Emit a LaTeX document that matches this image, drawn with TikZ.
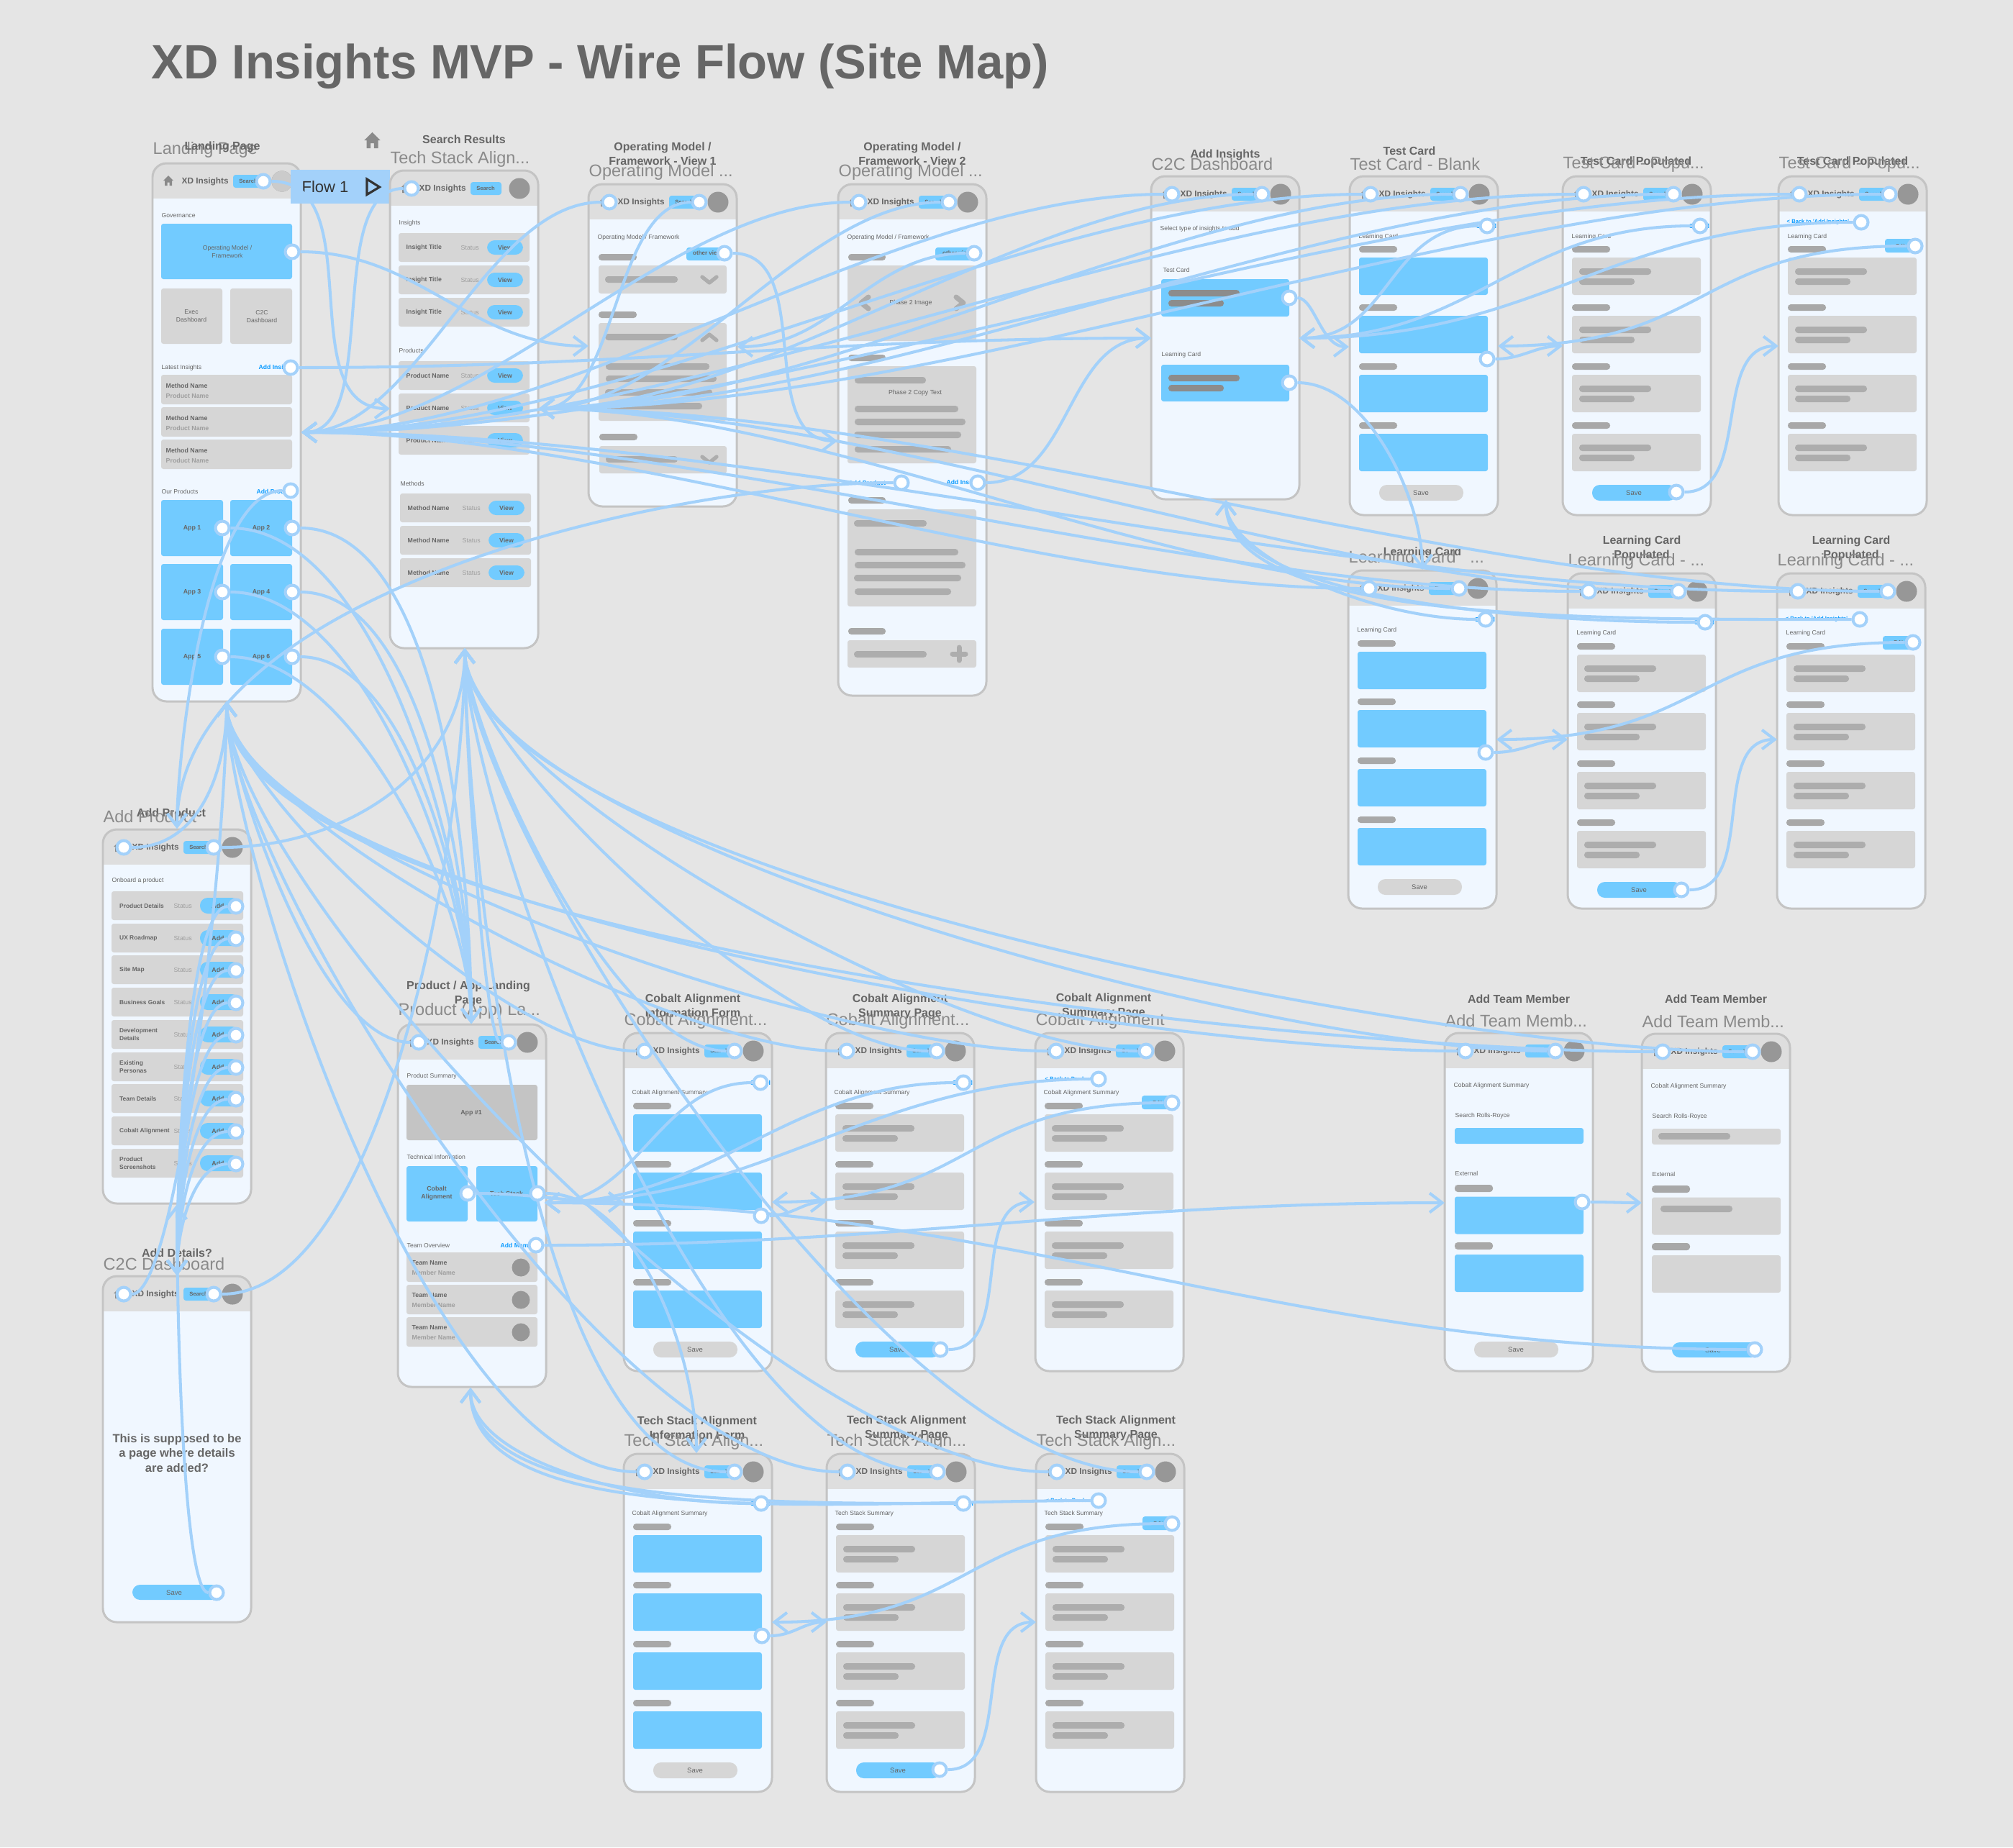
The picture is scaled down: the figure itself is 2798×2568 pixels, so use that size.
\documentclass[tikz,border=0pt]{standalone}
\usepackage{fontspec}
\setmainfont{Liberation Sans}
\usetikzlibrary{arrows.meta}

\definecolor{canvas}{HTML}{E5E5E5}
\definecolor{panel}{HTML}{F0F7FF}
\definecolor{frameline}{HTML}{C4C4C4}
\definecolor{headbar}{HTML}{DEDEDE}
\definecolor{cardgrey}{HTML}{D6D6D6}
\definecolor{cardblue}{HTML}{72CBFF}
\definecolor{barfill}{HTML}{ADADAD}
\definecolor{pillfill}{HTML}{A8A8A8}
\definecolor{darkbar}{HTML}{8C8C8C}
\definecolor{avatar}{HTML}{979797}
\definecolor{wireblue}{HTML}{A3D1FA}
\definecolor{linkblue}{HTML}{0A9BFF}
\definecolor{inkdark}{HTML}{666666}
\definecolor{inkmid}{HTML}{8A8A8A}
\definecolor{inklight}{HTML}{9E9E9E}

\newcommand{\fs}[1]{\fontsize{\the\dimexpr #1pt*2845/10000\relax}{\the\dimexpr #1pt*3556/10000\relax}\selectfont}

\pgfdeclarelayer{wires}
\pgfdeclarelayer{spots}
\pgfsetlayers{main,wires,spots}

\tikzset{
  framebox/.style={draw=frameline,line width=0.85pt,rounded corners=5.5pt},
  cardb/.style={fill=cardblue,rounded corners=0.9pt},
  cardg/.style={fill=cardgrey,rounded corners=0.9pt},
  barf/.style={fill=barfill,rounded corners=1.2pt},
  pillf/.style={fill=pillfill,rounded corners=1.2pt},
  dbar/.style={fill=darkbar,rounded corners=1.2pt},
  btnb/.style={fill=cardblue,rounded corners=3pt},
  btng/.style={fill=cardgrey,rounded corners=3pt},
  chev/.style={draw=barfill,line width=1.5pt,line cap=round,line join=round},
  txt/.style={inner sep=0pt,anchor=west,text=inkdark,font=\fs{8.6}},
  rowname/.style={inner sep=0pt,anchor=west,text=inkdark,align=left,font=\fs{8.8}\bfseries},
  rowsub/.style={inner sep=0pt,anchor=west,text=inklight,font=\fs{8.8}},
  ctr/.style={inner sep=0pt,text=inkdark,align=center,font=\fs{8.8}\bfseries},
  linkt/.style={inner sep=0pt,anchor=west,text=linkblue,font=\fs{8.6}\bfseries},
  pagetitle/.style={inner sep=0pt,text=inkdark,align=center,font=\fs{16}\bfseries},
  pagesub/.style={inner sep=0pt,anchor=west,text=inkmid,font=\fs{23.5}},
  spotnode/.style={circle,fill=white,draw=wireblue,line width=1.15pt,minimum size=5.4pt,inner sep=0pt},
  wire/.style={draw=wireblue,line width=1.15pt,-{Straight Barb[length=5pt,width=7.6pt]}},
  farwire/.style={wire,out looseness=.62,in looseness=.41},
  sidewire/.style={wire,looseness=.78}
}

% white hot spot on its own layer, above the wires
\newcommand{\Spot}[3]{\begin{pgfonlayer}{spots}\node[spotnode] (#1) at (#2,#3) {};\end{pgfonlayer}}

\newcommand{\HomeIcon}[2]{\fill[fill=#2] (#1) ++(-7,0) -- ++(7,-7) -- ++(7,7) -- ++(-2,0) -- ++(0,7) -- ++(-3.5,0) -- ++(0,-4.5) -- ++(-3,0) -- ++(0,4.5) -- ++(-3.5,0) -- ++(0,-7) -- cycle;}

% phone outline with header, local origin is its top left corner
\newcommand{\Phone}[2]{
  \fill[panel,rounded corners=5.5pt] (0,0) rectangle (206,#2);
  \begin{scope}
    \clip[rounded corners=5.5pt] (0,0) rectangle (206,#2);
    \fill[headbar] (0,0) rectangle (206,49);
  \end{scope}
  \path[framebox] (0,0) rectangle (206,#2);
  \HomeIcon{22,24}{inkmid}
  \node[txt,font=\fs{11.8}\bfseries] (#1-brand) at (40,25) {XD Insights};
  \fill[btnb,rounded corners=1pt] (112,16) rectangle (155,34);
  \node[ctr,font=\fs{7.6}\bfseries] (#1-searchtxt) at (133,25) {Search};
  \fill[avatar] (180,25) circle (14.5);
}
\newcommand{\HeadSpots}[1]{\Spot{#1-home}{29}{25}\Spot{#1-find}{154}{25}}

% four labelled cards, blue or filled
\newcommand{\CardRowsBlue}{
  \foreach \yy in {97,178,260,342} {
    \fill[pillf] (13,\yy) rectangle (66,\yy+9);
    \fill[cardb] (13,\yy+16) rectangle (192,\yy+68);
  }
}
\newcommand{\CardRowsFilled}{
  \foreach \yy in {97,178,260,342} {
    \fill[pillf] (13,\yy) rectangle (66,\yy+9);
    \fill[cardg] (13,\yy+16) rectangle (192,\yy+68);
    \fill[barf] (23,\yy+31) rectangle (123,\yy+40);
    \fill[barf] (23,\yy+45) rectangle (100,\yy+54);
  }
}
\newcommand{\SaveBtn}[3]{
  \fill[#3] (41,429) rectangle (158,451);
  \node[ctr,font=\fs{9.5}] (#1-save) at (#2,440) {Save};
}
% form row: id, y, name, status, button text, button left, row left
\newcommand{\ListRow}[7]{
  \fill[cardg] (#7,#2) rectangle ++(182,40);
  \node[rowname] (#1-name) at (#7+10,#2+20) {#3};
  \node[rowsub] (#1-state) at (#7+86,#2+20) {#4};
  \fill[btnb,rounded corners=3pt] (#6,#2+10) rectangle ++(50,20);
  \node[ctr] (#1-act) at (#6+25,#2+20) {#5};
}

\begin{document}
\begin{tikzpicture}[x=0.01cm,y=-0.01cm]
  \fill[canvas] (0,0) rectangle (2798,2568);

  \node[inner sep=0pt,anchor=west,text=inkdark,font=\fs{67}\bfseries] (maintitle) at (210,92) {XD Insights MVP - Wire Flow (Site Map)};

  % landing page
  \node[pagesub] (lp-sub) at (212,208) {Landing Page};
  \node[pagetitle] (lp-title) at (309,204) {Landing Page};
  \begin{scope}[shift={(212,227)}]
    \Phone{lp}{748}
    \fill[fill=headbar!80!gray] (180,25) circle (14.5);
    \Spot{lp-find}{154}{25}
    \node[txt] (lp-gov) at (12,73) {Governance};
    \fill[cardb] (12,84) rectangle (194,161);
    \node[ctr,font=\fs{8.6}] (lp-omtxt) at (104,123) {Operating Model /\\Framework};
    \fill[cardg] (12,174) rectangle (97,251);
    \fill[cardg] (108,174) rectangle (194,251);
    \node[ctr,font=\fs{8.6}] (lp-exec) at (54,212) {Exec\\Dashboard};
    \node[ctr,font=\fs{8.6}] (lp-c2c) at (152,213) {C2C\\Dashboard};
    \node[txt] (lp-latest) at (12,284) {Latest Insights};
    \node[linkt] (lp-addins) at (147,284) {Add Insights};
    \foreach \i/\yy in {1/294,2/339,3/384} {
      \fill[cardg] (12,\yy) rectangle (194,\yy+41);
      \node[rowname] (lp-mn\i) at (18,\yy+15) {Method Name};
      \node[rowsub,font=\fs{8.8}\bfseries] (lp-pn\i) at (18,\yy+29) {Product Name};
    }
    \node[txt] (lp-ours) at (12,456) {Our Products};
    \node[linkt] (lp-addpr) at (144,456) {Add Product};
    \foreach \i/\xx/\yy in {1/12/468,2/108/468,3/12/557,4/108/557,5/12/647,6/108/647} {
      \fill[cardb] (\xx,\yy) rectangle (\xx+86,\yy+78);
      \node[ctr] (lp-apptxt\i) at (\xx+43,\yy+39) {App \i};
    }
    \Spot{lp-om}{194}{123}
    \Spot{lp-ins}{192}{284}
    \Spot{lp-prod}{192}{455}
    \Spot{lp-app1}{97}{507}
    \Spot{lp-app2}{194}{507}
    \Spot{lp-app3}{97}{596}
    \Spot{lp-app4}{194}{596}
    \Spot{lp-app5}{97}{686}
    \Spot{lp-app6}{194}{686}
  \end{scope}

  % flow tag
  \begin{scope}[shift={(517.5,195)},scale=1.6]
    \HomeIcon{0,0}{inkmid}
  \end{scope}
  \fill[wireblue] (403.5,236) rectangle (542,283);
  \node[inner sep=0pt,text=black!80,font=\fs{22}] (flowtxt) at (452,260) {Flow 1};
  \draw[black!80,line width=0.9pt,line join=miter] (510,249) -- (527.5,260) -- (510,270.5) -- cycle;

  % search results
  \node[pagetitle] (sr-title) at (645,194) {Search Results};
  \node[pagesub] (sr-sub) at (542,221) {Tech Stack Align...};
  \begin{scope}[shift={(542,237)}]
    \Phone{sr}{664}
    \Spot{sr-home}{30}{25}
    \node[txt] (sr-ins) at (12,73) {Insights};
    \foreach \i/\yy in {1/87,2/132,3/177} {\ListRow{sr-a\i}{\yy}{Insight Title}{Status}{View}{135}{12}}
    \node[txt] (sr-prd) at (12,250) {Products};
    \foreach \i/\yy in {1/265,2/310,3/355} {\ListRow{sr-b\i}{\yy}{Product Name}{Status}{View}{135}{12}}
    \node[txt] (sr-met) at (14,435) {Methods};
    \foreach \i/\yy in {1/449,2/494,3/539} {\ListRow{sr-c\i}{\yy}{Method Name}{Status}{View}{137}{14}}
  \end{scope}

  % operating model view 1
  \node[pagetitle] (om1-title) at (921,214) {Operating Model /\\Framework - View 1};
  \node[pagesub] (om1-sub) at (818,239) {Operating Model ...};
  \begin{scope}[shift={(818,256)}]
    \Phone{om1}{448}
    \HeadSpots{om1}
    \node[txt] (om1-head) at (12,74) {Operating Model / Framework};
    \fill[pillf] (14,97) rectangle (67,106);
    \fill[btnb,rounded corners=1pt] (136,88) rectangle (195,106);
    \node[ctr,font=\fs{8}\bfseries] (om1-view) at (165,96) {other view};
    \Spot{om1-other}{189}{96}
    \fill[cardg] (14,113) rectangle (192,152);
    \fill[barf] (23,128) rectangle (124,137);
    \draw[chev] (158,129) -- (168,137) -- (178,129);
    \fill[pillf] (14,177) rectangle (67,186);
    \fill[cardg] (14,193) rectangle (192,329);
    \fill[barf] (23,208) rectangle (124,217);
    \draw[chev] (158,217) -- (168,209) -- (178,217);
    \fill[barf] (24,249) rectangle (168,258);
    \fill[barf] (24,266) rectangle (178,275);
    \fill[barf] (23,285) rectangle (172,294);
    \fill[barf] (24,304) rectangle (158,313);
    \fill[pillf] (15,347) rectangle (68,356);
    \fill[cardg] (15,364) rectangle (192,402);
    \fill[barf] (24,378) rectangle (124,387);
    \draw[chev] (158,379) -- (168,387) -- (178,379);
  \end{scope}

  % operating model view 2
  \node[pagetitle] (om2-title) at (1268,214) {Operating Model /\\Framework - View 2};
  \node[pagesub] (om2-sub) at (1165,239) {Operating Model ...};
  \begin{scope}[shift={(1165,256)}]
    \Phone{om2}{711}
    \HeadSpots{om2}
    \node[txt] (om2-head) at (12,74) {Operating Model / Framework};
    \fill[pillf] (14,97) rectangle (66,106);
    \fill[btnb,rounded corners=1pt] (135,88) rectangle (194,106);
    \node[ctr,font=\fs{8}\bfseries] (om2-view) at (165,96) {other view};
    \Spot{om2-other}{189}{96}
    \fill[cardg] (13,113) rectangle (192,218);
    \node[ctr,font=\fs{8.8}] (om2-img) at (101,165) {Phase 2 Image};
    \draw[chev,line width=2pt] (42,157) -- (32,165) -- (42,173);
    \draw[chev,line width=2pt] (164,157) -- (174,165) -- (164,173);
    \fill[pillf] (14,237) rectangle (66,246);
    \fill[cardg] (13,253) rectangle (192,388);
    \fill[barf] (23,268) rectangle (122,277);
    \node[ctr,font=\fs{8.8}] (om2-copy) at (107,290) {Phase 2 Copy Text};
    \fill[barf] (23,308) rectangle (167,317);
    \fill[barf] (23,326) rectangle (177,335);
    \fill[barf] (22,344) rectangle (171,353);
    \fill[barf] (23,364) rectangle (157,373);
    \node[linkt] (om2-addp) at (14,415) {Add Product};
    \node[linkt] (om2-addi) at (150,415) {Add Insights};
    \Spot{om2-prod}{88}{415}
    \Spot{om2-ins}{194}{415}
    \fill[pillf] (14,435) rectangle (66,444);
    \fill[cardg] (13,452) rectangle (192,587);
    \fill[barf] (22,467) rectangle (123,476);
    \fill[barf] (23,507) rectangle (167,516);
    \fill[barf] (23,525) rectangle (177,534);
    \fill[barf] (22,543) rectangle (171,552);
    \fill[barf] (23,562) rectangle (157,571);
    \fill[pillf] (14,617) rectangle (66,626);
    \fill[cardg] (13,634) rectangle (192,672);
    \fill[barf] (22,649) rectangle (123,658);
    \draw[chev,line width=2pt] (159,653) -- (177,653) (168,644) -- (168,662);
  \end{scope}

  % add insights
  \node[pagetitle] (ai-title) at (1703,215) {Add Insights};
  \node[pagesub] (ai-sub) at (1600,228) {C2C Dashboard};
  \begin{scope}[shift={(1600,245)}]
    \Phone{ai}{449}
    \HeadSpots{ai}
    \node[txt] (ai-select) at (12,73) {Select type of insights to add};
    \node[txt] (ai-test) at (16,130) {Test Card};
    \fill[cardb] (14,143) rectangle (192,195);
    \fill[dbar] (24,158) rectangle (123,167);
    \fill[dbar] (24,172) rectangle (101,181);
    \node[txt] (ai-learn) at (14,248) {Learning Card};
    \fill[cardb] (14,262) rectangle (192,313);
    \fill[dbar] (24,276) rectangle (123,285);
    \fill[dbar] (24,290) rectangle (101,299);
    \Spot{ai-tc}{192}{169}
    \Spot{ai-lc}{192}{287}
  \end{scope}

  % test cards
  \node[pagetitle] (tb-title) at (1959,210) {Test Card};
  \node[pagesub] (tb-sub) at (1876,228) {Test Card - Blank};
  \begin{scope}[shift={(1876,245)}]
    \Phone{tb}{471}
    \HeadSpots{tb}
    \node[linkt] (tb-cancel) at (175,69) {Cancel};
    \Spot{tb-cancelp}{191}{69}
    \node[txt] (tb-head) at (12,84) {Learning Card};
    \CardRowsBlue
    \SaveBtn{tb}{99}{btng}
    \Spot{tb-next}{191}{254}
  \end{scope}
  \node[pagetitle] (tp-title) at (2274,225) {Test Card Populated};
  \node[pagesub] (tp-sub) at (2172,228) {Test Card - Popu...};
  \begin{scope}[shift={(2172,245)}]
    \Phone{tp}{471}
    \HeadSpots{tp}
    \node[linkt] (tp-cancel) at (175,69) {Cancel};
    \Spot{tp-cancelp}{191}{69}
    \node[txt] (tp-head) at (12,84) {Learning Card};
    \CardRowsFilled
    \SaveBtn{tp}{99}{btnb}
    \Spot{tp-savep}{158}{439}
  \end{scope}
  \node[pagetitle] (tq-title) at (2575,225) {Test Card Populated};
  \node[pagesub] (tq-sub) at (2472,228) {Test Card - Popu...};
  \begin{scope}[shift={(2472,245)}]
    \Phone{tq}{471}
    \HeadSpots{tq}
    \node[linkt,font=\fs{7.6}\bfseries] (tq-back) at (11,64) {< Back to 'Add Insights'};
    \Spot{tq-backp}{115}{64}
    \node[txt] (tq-head) at (12,84) {Learning Card};
    \fill[btnb,rounded corners=1pt] (148,87) rectangle (196,106);
    \node[ctr,font=\fs{7}\bfseries] (tq-edit) at (170,97) {Edit};
    \Spot{tq-editp}{190}{97}
    \CardRowsFilled
  \end{scope}

  % learning cards
  \node[pagetitle] (lb-title) at (1977,768) {Learning Card};
  \node[pagesub] (lb-sub) at (1874,776) {Learning Card \ \ ...};
  \begin{scope}[shift={(1874,793)}]
    \Phone{lb}{470}
    \HeadSpots{lb}
    \node[linkt] (lb-cancel) at (175,68) {Cancel};
    \Spot{lb-cancelp}{191}{68}
    \node[txt] (lb-head) at (12,83) {Learning Card};
    \CardRowsBlue
    \SaveBtn{lb}{99}{btng}
    \Spot{lb-next}{191}{253}
  \end{scope}
  \node[pagetitle] (lc-title) at (2282,762) {Learning Card\\Populated};
  \node[pagesub] (lc-sub) at (2179,780) {Learning Card - ...};
  \begin{scope}[shift={(2179,797)}]
    \Phone{lc}{466}
    \HeadSpots{lc}
    \node[linkt] (lc-cancel) at (175,68) {Cancel};
    \Spot{lc-cancelp}{191}{68}
    \node[txt] (lc-head) at (12,83) {Learning Card};
    \CardRowsFilled
    \SaveBtn{lc}{99}{btnb}
    \Spot{lc-savep}{158}{440}
  \end{scope}
  \node[pagetitle] (ld-title) at (2573,762) {Learning Card\\Populated};
  \node[pagesub] (ld-sub) at (2470,780) {Learning Card - ...};
  \begin{scope}[shift={(2470,797)}]
    \Phone{ld}{466}
    \HeadSpots{ld}
    \node[linkt,font=\fs{7.6}\bfseries] (ld-back) at (11,64) {< Back to 'Add Insights'};
    \Spot{ld-backp}{115}{64}
    \node[txt] (ld-head) at (12,83) {Learning Card};
    \fill[btnb,rounded corners=1pt] (147,87) rectangle (195,106);
    \node[ctr,font=\fs{7}\bfseries] (ld-edit) at (169,96) {Edit};
    \Spot{ld-editp}{189}{96}
    \CardRowsFilled
  \end{scope}

  % add product
  \node[pagetitle] (ap-title) at (238,1130) {Add Product};
  \node[pagesub] (ap-sub) at (143,1135) {Add Product};
  \begin{scope}[shift={(143,1153)}]
    \Phone{ap}{520}
    \HeadSpots{ap}
    \node[txt] (ap-head) at (12,71) {Onboard a product};
    \foreach \i/\yy/\lbl in {1/86/Product Details,2/131/UX Roadmap,3/175/Site Map,4/220/Business Goals,5/265/Development\\Details,6/310/Existing\\Personas,7/354/Team Details,8/399/Cobalt Alignment,9/444/Product\\Screenshots} {
      \fill[cardg] (12,\yy) rectangle (195,\yy+40);
      \node[rowname,font=\fs{8.4}\bfseries] (ap-row\i) at (22.5,\yy+20) {\lbl};
      \node[rowsub] (ap-st\i) at (98,\yy+20) {Status};
      \fill[btnb,rounded corners=3pt] (135,\yy+9) rectangle (190,\yy+31);
      \node[ctr] (ap-add\i) at (160,\yy+20) {Add};
      \Spot{ap-spot\i}{185}{\yy+21}
    }
  \end{scope}

  % add details
  \node[pagetitle] (dt-title) at (246,1742) {Add Details?};
  \node[pagesub] (dt-sub) at (143,1757) {C2C Dashboard};
  \begin{scope}[shift={(143,1774)}]
    \Phone{dt}{481}
    \HeadSpots{dt}
    \node[ctr,font=\fs{16.5}\bfseries] (dt-note) at (103,246) {This is supposed to be\\a page where details\\are added?};
    \fill[btnb] (41,429) rectangle (162,450);
    \node[ctr,font=\fs{9.5}] (dt-save) at (99,440) {Save};
    \Spot{dt-savep}{158}{440}
  \end{scope}

  % product landing
  \node[pagetitle] (pl-title) at (651,1381) {Product / App Landing\\Page};
  \node[pagesub] (pl-sub) at (553,1405) {Product (App) La...};
  \begin{scope}[shift={(553,1424)}]
    \Phone{pl}{504}
    \HeadSpots{pl}
    \node[txt] (pl-sum) at (12,72) {Product Summary};
    \fill[fill=frameline,rounded corners=0.9pt] (12,84) rectangle (194,161);
    \node[ctr] (pl-app) at (102,123) {App \#1};
    \node[txt] (pl-tech) at (12,184) {Technical Information};
    \fill[cardb] (12,197) rectangle (97,274);
    \fill[cardb] (109,197) rectangle (194,274);
    \node[ctr] (pl-cob) at (54,235) {Cobalt\\Alignment};
    \node[ctr] (pl-stack) at (151,235) {Tech Stack};
    \node[txt] (pl-team) at (12,307) {Team Overview};
    \node[linkt] (pl-addm) at (142,307) {Add Member};
    \foreach \i/\yy in {1/317,2/362,3/407} {
      \fill[cardg] (12,\yy) rectangle (194,\yy+41);
      \node[rowname] (pl-tn\i) at (19,\yy+14) {Team Name};
      \node[rowsub,font=\fs{8.8}\bfseries] (pl-mn\i) at (19,\yy+28) {Member Name};
      \fill[avatar] (171,\yy+21) circle (12.5);
    }
    \Spot{pl-cobp}{97}{235}
    \Spot{pl-stackp}{194}{235}
    \Spot{pl-addp}{192}{307}
  \end{scope}

  % cobalt row
  \node[pagetitle] (ca-title) at (963,1398) {Cobalt Alignment\\Information Form};
  \node[pagesub] (ca-sub) at (867,1419) {Cobalt Alignment...};
  \begin{scope}[shift={(867,1436)}]
    \Phone{ca}{470}
    \HeadSpots{ca}
    \node[linkt] (ca-cancel) at (175,69) {Cancel};
    \Spot{ca-cancelp}{190}{69}
    \node[txt] (ca-head) at (11,83) {Cobalt Alignment Summary};
    \CardRowsBlue
    \SaveBtn{ca}{99}{btng}
    \Spot{ca-next}{191}{254}
  \end{scope}
  \node[pagetitle] (cb-title) at (1251,1399) {Cobalt Alignment\\Summary Page};
  \node[pagesub] (cb-sub) at (1148,1419) {Cobalt Alignment...};
  \begin{scope}[shift={(1148,1436)}]
    \Phone{cb}{470}
    \HeadSpots{cb}
    \node[linkt] (cb-cancel) at (175,69) {Cancel};
    \Spot{cb-cancelp}{191}{69}
    \node[txt] (cb-head) at (11,83) {Cobalt Alignment Summary};
    \CardRowsFilled
    \SaveBtn{cb}{99}{btnb}
    \Spot{cb-savep}{159}{440}
  \end{scope}
  \node[pagetitle] (cc-title) at (1534,1398) {Cobalt Alignment\\Summary Page};
  \node[pagesub] (cc-sub) at (1439,1419) {Cobalt Alignment};
  \begin{scope}[shift={(1439,1436)}]
    \Phone{cc}{470}
    \HeadSpots{cc}
    \node[linkt,font=\fs{7.6}\bfseries] (cc-back) at (13,64) {< Back to Product};
    \Spot{cc-backp}{88}{64}
    \node[txt] (cc-head) at (11,83) {Cobalt Alignment Summary};
    \fill[btnb,rounded corners=1pt] (148,87) rectangle (196,106);
    \node[ctr,font=\fs{7}\bfseries] (cc-edit) at (170,97) {Edit};
    \Spot{cc-editp}{190}{97}
    \CardRowsFilled
  \end{scope}

  % team member
  \node[pagetitle] (tm-title) at (2111,1389) {Add Team Member};
  \node[pagesub] (tm-sub) at (2008,1419) {Add Team Memb...};
  \begin{scope}[shift={(2008,1436)}]
    \Phone{tm}{470}
    \HeadSpots{tm}
    \node[txt] (tm-head) at (12,73) {Cobalt Alignment Summary};
    \node[txt] (tm-rolls) at (14,115) {Search Rolls-Royce};
    \fill[cardb] (14,132) rectangle (193,154);
    \node[txt] (tm-ext) at (14,195) {External};
    \fill[pillf] (14,211) rectangle (67,221);
    \fill[cardb] (14,227.5) rectangle (193,279.5);
    \fill[pillf] (14,291) rectangle (67,301);
    \fill[cardb] (14,308) rectangle (193,360);
    \SaveBtn{tm}{99}{btng}
    \Spot{tm-next}{191}{235}
  \end{scope}
  \node[pagetitle] (tn-title) at (2385,1389) {Add Team Member};
  \node[pagesub] (tn-sub) at (2282,1420) {Add Team Memb...};
  \begin{scope}[shift={(2282,1437)}]
    \Phone{tn}{470}
    \HeadSpots{tn}
    \node[txt] (tn-head) at (12,73) {Cobalt Alignment Summary};
    \node[txt] (tn-rolls) at (14,115) {Search Rolls-Royce};
    \fill[cardg] (14,132) rectangle (193,154);
    \fill[barf] (23,138) rectangle (123,147);
    \node[txt] (tn-ext) at (14,195) {External};
    \fill[pillf] (14,211) rectangle (67,221);
    \fill[cardg] (14,227.5) rectangle (193,279.5);
    \fill[barf] (26,239) rectangle (126,248);
    \fill[pillf] (14,291) rectangle (67,301);
    \fill[cardg] (14,308) rectangle (193,360);
    \fill[btnb] (42,429) rectangle (163,450);
    \node[ctr,font=\fs{9.5}] (tn-save) at (99,440) {Save};
    \Spot{tn-savep}{157}{439}
  \end{scope}

  % tech stack row
  \node[pagetitle] (ts-title) at (969,1985) {Tech Stack Alignment\\Information Form};
  \node[pagesub] (ts-sub) at (867,2004) {Tech Stack Align...};
  \begin{scope}[shift={(867,2021)}]
    \Phone{ts}{470}
    \HeadSpots{ts}
    \node[linkt] (ts-cancel) at (175,69) {Cancel};
    \Spot{ts-cancelp}{191}{69}
    \node[txt] (ts-head) at (11,83) {Cobalt Alignment Summary};
    \CardRowsBlue
    \SaveBtn{ts}{99}{btng}
    \Spot{ts-next}{192}{253}
  \end{scope}
  \node[pagetitle] (tt-title) at (1260,1985) {Tech Stack Alignment\\Summary Page};
  \node[pagesub] (tt-sub) at (1149,2004) {Tech Stack Align...};
  \begin{scope}[shift={(1149,2021)}]
    \Phone{tt}{470}
    \HeadSpots{tt}
    \node[linkt] (tt-cancel) at (175,69) {Cancel};
    \Spot{tt-cancelp}{190}{69}
    \node[txt] (tt-head) at (11,83) {Tech Stack Summary};
    \CardRowsFilled
    \SaveBtn{tt}{99}{btnb}
    \Spot{tt-savep}{157}{439}
  \end{scope}
  \node[pagetitle] (tu-title) at (1551,1985) {Tech Stack Alignment\\Summary Page};
  \node[pagesub] (tu-sub) at (1440,2004) {Tech Stack Align...};
  \begin{scope}[shift={(1440,2021)}]
    \Phone{tu}{470}
    \HeadSpots{tu}
    \node[linkt,font=\fs{7.6}\bfseries] (tu-back) at (13,65) {< Back to Product};
    \Spot{tu-backp}{87}{65}
    \node[txt] (tu-head) at (11,83) {Tech Stack Summary};
    \fill[btnb,rounded corners=1pt] (148,87) rectangle (196,106);
    \node[ctr,font=\fs{7}\bfseries] (tu-edit) at (170,97) {Edit};
    \Spot{tu-editp}{189}{97}
    \CardRowsFilled
  \end{scope}

  % arrival points
  \coordinate (lpRight) at (419,601);
  \coordinate (lpBottom) at (315,975);
  \coordinate (srLeft) at (542,568);
  \coordinate (srRight) at (749,568);
  \coordinate (srBottom) at (646,901);
  \coordinate (om1Left) at (818,481);
  \coordinate (om1Right) at (1025,482);
  \coordinate (om2Left) at (1164,613);
  \coordinate (aiLeft) at (1600,470);
  \coordinate (aiRight) at (1806,470);
  \coordinate (aiBottom) at (1704,695);
  \coordinate (tbLeft) at (1875,482);
  \coordinate (tbRight) at (2082,481);
  \coordinate (tpLeft) at (2172,481);
  \coordinate (tqLeft) at (2472,481);
  \coordinate (lbTop) at (1977,792);
  \coordinate (lbRight) at (2080,1028);
  \coordinate (lcLeft) at (2179,1028);
  \coordinate (ldLeft) at (2470,1028);
  \coordinate (apTop) at (246,1152);
  \coordinate (apBottom) at (246,1674);
  \coordinate (dtTop) at (246,1773);
  \coordinate (plTop) at (655,1423);
  \coordinate (plRight) at (757,1672);
  \coordinate (plBottom) at (654,1929);
  \coordinate (caLeft) at (867,1671);
  \coordinate (caRight) at (1073,1671);
  \coordinate (cbLeft) at (1148,1671);
  \coordinate (ccLeft) at (1438,1671);
  \coordinate (tmLeft) at (2008,1672);
  \coordinate (tnLeft) at (2282,1672);
  \coordinate (tsTop) at (968,2020);
  \coordinate (tsRight) at (1073,2255);
  \coordinate (ttLeft) at (1149,2255);
  \coordinate (tuLeft) at (1440,2255);

  \begin{pgfonlayer}{wires}
    \foreach \s in {sr,om1,om2,ai,tb,tp,tq,lb,lc,ld}
      \draw[sidewire] (\s-home) to[out=180,in=0] (lpRight);
    \foreach \s in {om1,om2,ai,tb,tp,tq,lb,lc,ld}
      \draw[sidewire] (\s-find) to[out=180,in=0] (srRight);
    \foreach \s in {ca,cb,cc,tm,tn,ts,tt,tu} {
      \draw[farwire] (\s-home) to[out=180,in=270] (lpBottom);
      \draw[farwire] (\s-find) to[out=180,in=270] (srBottom);
    }
    \draw[farwire] (pl-home) to[out=180,in=270] (lpBottom);
    \draw[wire,out looseness=.1,in looseness=.6] (pl-find) to[out=180,in=270] (srBottom);
    \draw[wire] (ap-home) to[out=0,in=270] (lpBottom);
    \draw[wire] (ap-find) to[out=0,in=270] (srBottom);
    \draw[wire,out looseness=.2,in looseness=.6] (dt-home) to[out=0,in=270] (lpBottom);
    \draw[wire,out looseness=.6,in looseness=.7] (dt-find) to[out=0,in=270] (srBottom);
    \draw[wire] (lp-find) to[out=0,in=180] (srLeft);
    \draw[wire] (lp-om) to[out=0,in=180] (om1Left);
    \draw[wire] (lp-ins) to[out=0,in=180] (aiLeft);
    \draw[wire,looseness=.55] (lp-prod) to[out=180,in=90] (apTop);
    \foreach \i in {1,...,6}
      \draw[wire,looseness=.7] (lp-app\i) to[out=0,in=90] (plTop);
    \draw[wire] (om1-other) to[out=0,in=180] (om2Left);
    \draw[wire] (om2-other) to[out=180,in=0] (om1Right);
    \draw[wire,looseness=.75] (om2-prod) to[out=180,in=90] (apTop);
    \draw[wire] (om2-ins) to[out=0,in=180] (aiLeft);
    \draw[wire,out looseness=.6] (ai-tc) to[out=0,in=180] (tbLeft);
    \draw[wire,looseness=.8] (ai-lc) to[out=0,in=90] (lbTop);
    \foreach \s in {tb-cancelp,tp-cancelp,tq-backp}
      \draw[wire,looseness=1.1] (\s) to[out=180,in=0] (aiRight);
    \foreach \s in {lb-cancelp,lc-cancelp,ld-backp}
      \draw[wire,in looseness=.5] (\s) to[out=180,in=270] (aiBottom);
    \draw[wire] (tb-next) to[out=0,in=180] (tpLeft);
    \draw[wire] (tp-savep) to[out=0,in=180] (tqLeft);
    \draw[wire,looseness=1.3] (tq-editp) to[out=180,in=0] (tbRight);
    \draw[wire] (lb-next) to[out=0,in=180] (lcLeft);
    \draw[wire] (lc-savep) to[out=0,in=180] (ldLeft);
    \draw[wire,looseness=1.3] (ld-editp) to[out=180,in=0] (lbRight);
    \foreach \i/\ol in {1/.25,2/.27,3/.3,4/.33,5/.37,6/.42,7/.5,8/.6,9/.7}
      \draw[wire,out looseness=\ol] (ap-spot\i) to[out=180,in=90] (dtTop);
    \draw[wire,out looseness=.15] (dt-savep) to[out=180,in=270] (apBottom);
    \draw[wire] (pl-cobp) to[out=0,in=180] (caLeft);
    \draw[wire,looseness=.8] (pl-stackp) to[out=0,in=90] (tsTop);
    \draw[wire] (pl-addp) to[out=0,in=180] (tmLeft);
    \foreach \s in {ca-cancelp,cb-cancelp,cc-backp,tn-savep}
      \draw[wire] (\s) to[out=180,in=0] (plRight);
    \foreach \s in {ts-cancelp,tt-cancelp,tu-backp}
      \draw[wire,in looseness=.6] (\s) to[out=180,in=270] (plBottom);
    \draw[wire] (ca-next) to[out=0,in=180] (cbLeft);
    \draw[wire] (cb-savep) to[out=0,in=180] (ccLeft);
    \draw[wire,looseness=1.3] (cc-editp) to[out=180,in=0] (caRight);
    \draw[wire] (ts-next) to[out=0,in=180] (ttLeft);
    \draw[wire] (tt-savep) to[out=0,in=180] (tuLeft);
    \draw[wire,looseness=1.3] (tu-editp) to[out=180,in=0] (tsRight);
    \draw[wire] (tm-next) to[out=0,in=180] (tnLeft);
  \end{pgfonlayer}
\end{tikzpicture}
\end{document}
